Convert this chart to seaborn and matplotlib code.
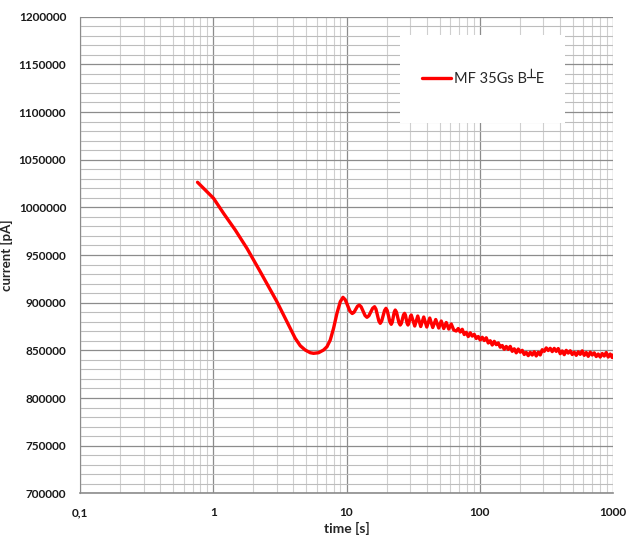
import numpy as np
import pandas as pd
import matplotlib
matplotlib.use("Agg")
import matplotlib.pyplot as plt
import matplotlib.ticker as mticker
from matplotlib.patches import Rectangle
import seaborn as sns

# Measured current transient: time in s, current in pA
time_s = [
    # initial decay and minimum
    0.762, 1.005, 1.195, 1.463, 1.790, 2.253, 3.006, 3.574, 4.125, 4.497,
    4.90, 5.346, 5.657, 6.170, 6.726, 7.134, 7.551, 7.995, 8.479, 8.978,
    9.407,
    # damped oscillations
    9.786, 10.19, 10.61, 11.04, 11.38, 11.73, 12.09, 12.47, 12.88, 13.32,
    13.78, 14.24, 14.72, 15.21, 15.71, 16.24, 16.63, 17.06, 17.49, 17.92,
    18.36, 18.82, 19.30, 19.78, 20.22, 20.70, 21.19, 21.67, 22.05, 22.43,
    22.82, 23.22, 23.73, 24.25, 24.77, 25.32, 25.80, 26.28, 26.76, 27.27,
    27.68, 28.09, 28.50, 28.92, 29.32, 29.76, 30.20, 30.62, 31.56, 32.52,
    33.37, 34.25, 35.16, 36.07, 37.03, 37.99, 38.99, 40.03, 41.07, 42.15,
    43.25, 44.39, 45.55, 46.75, 49.24, 51.41, 53.68, 56.06, 58.54, 61.12,
    63.82,
    # noisy slow relaxation
    66.63, 68.97, 71.40, 73.91, 76.51, 79.20, 81.99, 84.87, 87.86, 90.95,
    94.14, 97.45, 100.87, 104.42, 108.09, 111.89, 115.83, 119.90, 124.12, 128.48,
    133.00, 137.68, 142.52, 147.53, 152.72, 158.09, 163.65, 169.40, 175.36, 181.53,
    187.91, 194.52, 201.36, 208.44, 215.77, 223.35, 231.21, 239.34, 247.75, 256.46,
    265.48, 274.82, 284.48, 294.48, 304.84, 315.55, 326.65, 338.13, 350.02, 362.33,
    375.07, 388.25, 401.90, 416.03, 430.66, 445.80, 461.48, 477.70, 494.50, 511.88,
    529.88, 548.51, 567.79, 587.75, 608.42, 629.81, 651.95, 674.87, 698.60, 723.16,
    748.59, 774.90, 802.15, 830.35, 859.54, 889.76, 921.04, 953.42, 986.94, 1000.0,
]
current_pA = [
    1026300, 1009500, 993700, 976200, 957000, 932500, 901000, 880000, 862600, 854850,
    850330, 847500, 846870, 847500, 850330, 853800, 860820, 873100, 888840, 901000,
    905620,
    903100, 897130, 891140, 888630, 889890, 893080, 896280, 897540, 895650, 891090,
    886530, 884640, 886270, 890200, 894130, 895760, 893240, 887050, 880860, 878330,
    880650, 886210, 891770, 894080, 891670, 885690, 879710, 877290, 879500, 884790,
    890090, 892290, 889990, 884430, 878870, 876560, 878350, 882700, 887050, 888840,
    887050, 882700, 878350, 876560, 878140, 881810, 885480, 887050, 881280, 875510,
    880760, 886000, 880500, 874990, 879970, 884960, 879710, 874460, 879180, 883910,
    878920, 873940, 878140, 882330, 873410, 880760, 872890, 879180, 872360, 877610,
    871310,
    870260, 872880, 869220, 872090, 866580, 868930, 864460, 868380, 864970, 866790,
    862430, 864520, 860820, 863710, 860320, 863210, 857720, 860090, 855580, 859460,
    856000, 857780, 853280, 855060, 851070, 854080, 850970, 854160, 848960, 851620,
    847370, 851400, 848080, 850010, 845650, 847820, 844460, 847920, 845090, 848550,
    844110, 848040, 845160, 850650, 848990, 852540, 849820, 852130, 848690, 852060,
    848940, 851890, 846450, 849380, 845480, 849980, 847140, 849530, 845640, 848040,
    844770, 848440, 845820, 849490, 844770, 847740, 843710, 848080, 845100, 847370,
    843520, 846140, 842990, 846660, 844040, 847710, 842990, 846140, 842470, 845100,
]
series_label = "MF 35Gs B\u2534E"

y_ticks = [700000, 750000, 800000, 850000, 900000, 950000, 1000000,
           1050000, 1100000, 1150000, 1200000]
x_ticks = [0.1, 1, 10, 100, 1000]
x_tick_labels = ["0,1", "1", "10", "100", "1000"]

df = pd.DataFrame({"time [s]": time_s, "current [pA]": current_pA})

sns.set_style("white")
plt.rcParams["font.family"] = ["Lato", "DejaVu Sans"]

fig = plt.figure(figsize=(6.30, 5.38), dpi=100)
ax = fig.add_axes([0.127, 0.083, 0.846, 0.886])

ax.set_xscale("log")
ax.set_xlim(0.1, 1000)
ax.set_ylim(700000, 1200000)

# Major and minor grid in both directions
ax.set_yticks(y_ticks)
ax.yaxis.set_minor_locator(mticker.MultipleLocator(10000))
ax.set_xticks(x_ticks)
ax.xaxis.set_minor_locator(mticker.LogLocator(base=10, subs=np.arange(2, 10), numticks=20))
ax.xaxis.set_minor_formatter(mticker.NullFormatter())
ax.set_xticklabels(x_tick_labels)
ax.set_yticklabels([str(v) for v in y_ticks])

ax.grid(which="major", axis="both", color="#8c8c8c", linewidth=0.9, zorder=0)
ax.grid(which="minor", axis="y", color="#bdbdbd", linewidth=0.8, zorder=0)
ax.grid(which="minor", axis="x", color="#cfcfcf", linewidth=0.8, zorder=0)
ax.set_axisbelow(True)

ax.tick_params(which="both", length=0)
ax.tick_params(axis="y", pad=10, labelsize=8.5)
ax.tick_params(axis="x", pad=10, labelsize=8.5)
for lab in ax.get_xticklabels() + ax.get_yticklabels():
    lab.set_fontweight("bold")
    lab.set_color("#1a1a1a")

for side in ["top", "right"]:
    ax.spines[side].set_visible(False)
ax.spines["left"].set_color("#8c8c8c")
ax.spines["bottom"].set_color("#8c8c8c")
ax.spines["bottom"].set_linewidth(1.2)

sns.lineplot(data=df, x="time [s]", y="current [pA]", ax=ax, color="#ff0000",
             linewidth=2.4, sort=False, estimator=None, label=series_label,
             zorder=3)

ax.set_xlabel("time [s]", fontsize=10, fontweight="bold", labelpad=3)
ax.set_ylabel("current [pA]", fontsize=9.5, fontweight="bold", labelpad=4)

# White panel behind the legend
ax.add_patch(Rectangle((0.600, 0.777), 0.310, 0.185, transform=ax.transAxes,
                       facecolor="white", edgecolor="none", zorder=2))
leg = ax.legend(loc="center left", bbox_to_anchor=(0.63, 0.869), frameon=False,
                handlelength=2.0, handletextpad=0.2, borderaxespad=0,
                prop={"family": ["Lato", "DejaVu Sans"], "size": 10.5})
leg.set_zorder(4)

fig.savefig("out.png", dpi=100, facecolor="white")
